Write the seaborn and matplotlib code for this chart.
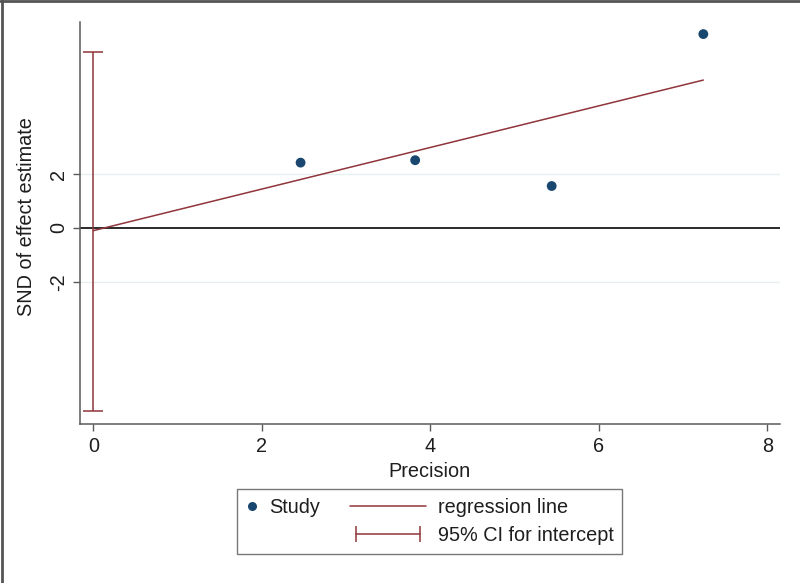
import numpy as np
import pandas as pd
import matplotlib
matplotlib.use("Agg")
import matplotlib.pyplot as plt
import seaborn as sns
from matplotlib.lines import Line2D
from matplotlib.legend_handler import HandlerLine2D

# ==========================================
# DATA
# ==========================================
precision = [2.46, 3.82, 5.44, 7.24]
snd = [2.43, 2.52, 1.56, 7.21]

reg_x = [0.0, 7.24]
reg_y = [-0.10, 5.50]

ci_x = 0.0
ci_low = -6.80
ci_high = 6.54

x_ticks = [0, 2, 4, 6, 8]
y_ticks = [-2, 0, 2]

# ==========================================
# STYLE
# ==========================================
sns.set_theme(style="white")
plt.rcParams['font.family'] = ['Liberation Sans', 'DejaVu Sans']

POINT_COLOR = "#1a476f"
LINE_COLOR = "#90353b"
AXIS_COLOR = "#5a5a5a"
TEXT_COLOR = "#1e1e1e"
FS = 14.3

fig = plt.figure(figsize=(8, 5.83), dpi=100)
ax = fig.add_axes([0.1, 0.2727, 0.875, 0.6896])

# faint grid lines + zero line
for yv in y_ticks:
    if yv != 0:
        ax.axhline(yv, color="#e6f0f3", lw=0.9, zorder=0)
ax.axhline(0, color="#2a2a2a", lw=1.4, zorder=1)

df = pd.DataFrame({"Precision": precision, "SND": snd})
sns.scatterplot(data=df, x="Precision", y="SND", ax=ax, color=POINT_COLOR,
                s=50, edgecolor="none", zorder=4)

reg_df = pd.DataFrame({"x": reg_x, "y": reg_y})
sns.lineplot(data=reg_df, x="x", y="y", ax=ax, color=LINE_COLOR, lw=1.1, zorder=3)

ci_mid = (ci_low + ci_high) / 2
ax.errorbar([ci_x], [ci_mid], yerr=[[ci_mid - ci_low], [ci_high - ci_mid]],
            fmt="none", ecolor=LINE_COLOR, elinewidth=1.1, capsize=7.5,
            capthick=1.1, zorder=3)

ax.set_xlim(-0.158, 8.15)
ax.set_ylim(-7.29, 7.66)
ax.set_xticks(x_ticks)
ax.set_yticks(y_ticks)
ax.set_yticklabels([str(v) for v in y_ticks], rotation=90, va="center")

for side in ["top", "right"]:
    ax.spines[side].set_visible(False)
for side in ["left", "bottom"]:
    ax.spines[side].set_color(AXIS_COLOR)
    ax.spines[side].set_linewidth(1.1)

ax.tick_params(axis="both", which="both", direction="out", length=5, width=1.0,
               color=AXIS_COLOR, labelsize=FS, labelcolor=TEXT_COLOR)
ax.tick_params(axis="x", bottom=True, pad=4.5)
ax.tick_params(axis="y", left=True, pad=3.5)

ax.set_xlabel("Precision", fontsize=FS, color=TEXT_COLOR)
ax.set_ylabel("SND of effect estimate", fontsize=FS, color=TEXT_COLOR)
ax.xaxis.set_label_coords(0.5, -0.094)
ax.yaxis.set_label_coords(-0.063, 0.515)


# ==========================================
# LEGEND
# ==========================================
class ShortHandler(HandlerLine2D):
    def legend_artist(self, legend, orig_handle, fontsize, handlebox):
        handlebox.width = 0.6 * fontsize
        return super().legend_artist(legend, orig_handle, fontsize, handlebox)


h_study = Line2D([], [], linestyle="none", marker="o", markersize=6.5,
                 color=POINT_COLOR, markeredgewidth=0)
h_blank = Line2D([], [], linestyle="none")
h_reg = Line2D([], [], color=LINE_COLOR, lw=1.1)
h_ci = Line2D([], [], color=LINE_COLOR, lw=1.1, marker="|", markersize=12,
              markeredgewidth=1.1)

leg = fig.legend([h_study, h_blank, h_reg, h_ci],
                 ["Study", " ", "regression line", "95% CI for intercept"],
                 ncol=2, loc="center", bbox_to_anchor=(0.537, 0.1055),
                 fontsize=FS, handlelength=3.8, handletextpad=0.6,
                 columnspacing=1.5, labelspacing=0.45, borderpad=0.45,
                 borderaxespad=0, fancybox=False, frameon=True,
                 handler_map={h_study: ShortHandler(numpoints=1),
                              h_blank: ShortHandler(numpoints=1),
                              h_ci: HandlerLine2D(numpoints=2)})
leg.get_frame().set_edgecolor("#555555")
leg.get_frame().set_linewidth(1.0)
for t in leg.get_texts():
    t.set_color(TEXT_COLOR)

# outer frame edges seen at top and left of the reference
fig.add_artist(Line2D([0, 1], [0.998, 0.998], transform=fig.transFigure,
                      color="#555555", lw=2))
fig.add_artist(Line2D([0.002, 0.002], [0, 1], transform=fig.transFigure,
                      color="#555555", lw=2))

fig.savefig("out.png", dpi=100)
